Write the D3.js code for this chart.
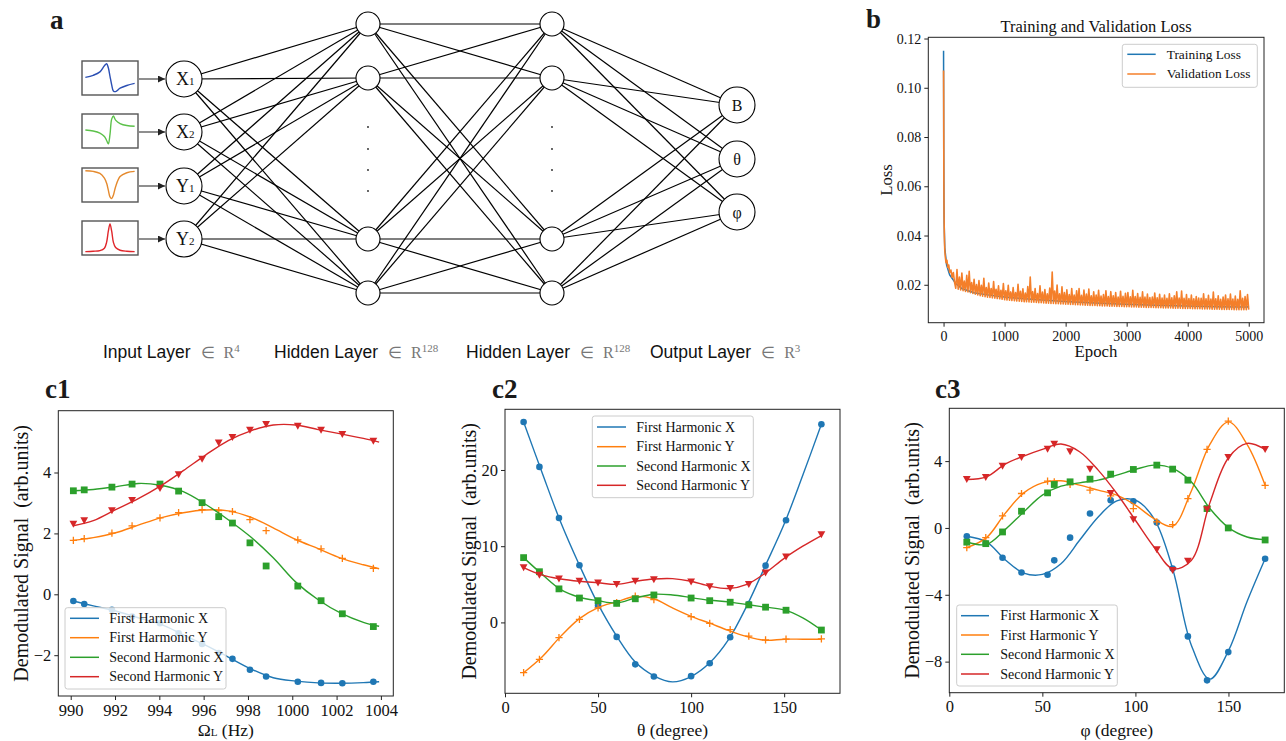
<!DOCTYPE html>
<html>
<head>
<meta charset="utf-8">
<title>network and demodulation results</title>
<script src="https://cdn.jsdelivr.net/npm/d3@7"></script>
<style>
  body { margin: 0; background: #fff; }
</style>
</head>
<body>
<svg id="fig" width="1286" height="741"></svg>
<script>
var SERIF = "'Liberation Serif', 'Times New Roman', serif";
var SANS = "'Liberation Sans', Arial, sans-serif";

// ---------- panel a : network ----------
var inputLabels = ["X", "X", "Y", "Y"];
var inputSubs = ["1", "2", "1", "2"];
var outputLabels = ["B", "θ", "φ"];
var layerNames = ["Input Layer", "Hidden Layer", "Hidden Layer", "Output Layer"];
var layerDims = ["4", "128", "128", "3"];
// small input traces (x and y as fraction of the box, y from top)
var traceX = [0.06, 0.2, 0.32, 0.4, 0.44, 0.47, 0.5, 0.53, 0.56, 0.6, 0.68, 0.8, 0.94];
var traceX1 = [0.48, 0.42, 0.32, 0.14, 0.08, 0.2, 0.45, 0.7, 0.88, 0.9, 0.8, 0.72, 0.66];
var traceX2 = [0.47, 0.5, 0.56, 0.66, 0.78, 0.88, 0.6, 0.15, 0.06, 0.18, 0.28, 0.34, 0.36];
var traceY1 = [0.08, 0.1, 0.16, 0.3, 0.45, 0.65, 0.85, 0.9, 0.8, 0.55, 0.25, 0.14, 0.1];
var traceY2 = [0.9, 0.89, 0.87, 0.8, 0.62, 0.3, 0.09, 0.3, 0.62, 0.78, 0.86, 0.89, 0.9];
var traceColors = ["#2b4fb3", "#5cc14a", "#e58a2e", "#e0262b"];

// ---------- panel b : loss ----------
var trainEpochs = [0, 3, 6, 10, 20, 50, 100, 200, 300, 500, 750, 1000, 1500, 2000, 2500, 3000, 3500, 4000, 4500, 4980, 5000];
var trainLoss = [0.115, 0.075, 0.055, 0.045, 0.035, 0.028, 0.024, 0.0205, 0.0185, 0.0168, 0.0158, 0.0150, 0.0140, 0.0132, 0.0126, 0.0121, 0.0117, 0.0114, 0.0111, 0.0110, 0.0114];
var valEarlyEpochs = [0, 2, 5, 8, 12, 16, 20, 30, 40, 55, 70, 85, 100, 120, 140, 160, 180];
var valEarlyLoss = [0.107, 0.095, 0.062, 0.048, 0.041, 0.037, 0.034, 0.031, 0.029, 0.030, 0.027, 0.028, 0.025, 0.026, 0.023, 0.025, 0.021];
var valLateLoss = [
  0.0186, 0.0262, 0.0182, 0.0231, 0.0179, 0.0248, 0.0176, 0.0215, 0.0173, 0.0238, 0.0171, 0.0255, 0.0168, 0.0209, 0.0165, 0.0222, 0.0162, 0.0201, 0.0159, 0.0217,
  0.0156, 0.0198, 0.0154, 0.0226, 0.0152, 0.0189, 0.0150, 0.0207, 0.0149, 0.0185, 0.0147, 0.0213, 0.0146, 0.0182, 0.0144, 0.0196, 0.0143, 0.0178, 0.0141, 0.0205,
  0.0139, 0.0176, 0.0138, 0.0198, 0.0137, 0.0171, 0.0136, 0.0189, 0.0135, 0.0168, 0.0134, 0.0202, 0.0133, 0.0174, 0.0132, 0.0184, 0.0131, 0.0166, 0.0131, 0.0193,
  0.0130, 0.0231, 0.0129, 0.0172, 0.0129, 0.0185, 0.0128, 0.0164, 0.0127, 0.0196, 0.0127, 0.0170, 0.0126, 0.0181, 0.0125, 0.0163, 0.0125, 0.0187, 0.0124, 0.0252,
  0.0124, 0.0175, 0.0123, 0.0199, 0.0123, 0.0163, 0.0122, 0.0192, 0.0122, 0.0168, 0.0121, 0.0180, 0.0121, 0.0160, 0.0120, 0.0185, 0.0120, 0.0158, 0.0119, 0.0176,
  0.0119, 0.0185, 0.0118, 0.0157, 0.0118, 0.0179, 0.0117, 0.0162, 0.0117, 0.0183, 0.0116, 0.0155, 0.0116, 0.0171, 0.0116, 0.0158, 0.0115, 0.0178, 0.0115, 0.0154,
  0.0114, 0.0160, 0.0114, 0.0176, 0.0114, 0.0152, 0.0113, 0.0172, 0.0113, 0.0155, 0.0113, 0.0168, 0.0112, 0.0150, 0.0112, 0.0174, 0.0112, 0.0153, 0.0111, 0.0165,
  0.0111, 0.0168, 0.0111, 0.0151, 0.0110, 0.0178, 0.0110, 0.0152, 0.0110, 0.0164, 0.0109, 0.0149, 0.0109, 0.0171, 0.0109, 0.0150, 0.0108, 0.0162, 0.0108, 0.0148,
  0.0108, 0.0150, 0.0108, 0.0166, 0.0107, 0.0147, 0.0107, 0.0161, 0.0107, 0.0146, 0.0106, 0.0158, 0.0106, 0.0145, 0.0106, 0.0163, 0.0106, 0.0147, 0.0105, 0.0155,
  0.0105, 0.0171, 0.0105, 0.0146, 0.0105, 0.0175, 0.0104, 0.0145, 0.0104, 0.0160, 0.0104, 0.0144, 0.0104, 0.0158, 0.0103, 0.0143, 0.0103, 0.0152, 0.0103, 0.0146,
  0.0103, 0.0145, 0.0102, 0.0163, 0.0102, 0.0143, 0.0102, 0.0157, 0.0102, 0.0142, 0.0101, 0.0170, 0.0101, 0.0143, 0.0101, 0.0155, 0.0101, 0.0141, 0.0100, 0.0150,
  0.0100, 0.0158, 0.0100, 0.0143, 0.0100, 0.0162, 0.0100, 0.0142, 0.0099, 0.0154, 0.0099, 0.0141, 0.0099, 0.0176, 0.0099, 0.0145, 0.0099, 0.0152, 0.0099, 0.0160,
  0.0099];
var valLateEpochs = d3.range(200, 5001, 20);

// ---------- panels c ----------
var seriesNames = ["First Harmonic X", "First Harmonic Y", "Second Harmonic X", "Second Harmonic Y"];
var seriesColors = ["#1f77b4", "#ff7f0e", "#2ca02c", "#d62728"];
var seriesMarkers = ["o", "+", "s", "v"];

// c1 : larmor frequency scan
var c1Freq = [990.12, 990.61, 991.86, 992.77, 994.03, 994.87, 995.93, 996.68, 997.30, 998.09, 998.82, 1000.25, 1001.30, 1002.26, 1003.66];
var c1FirstX = [-0.22, -0.32, -0.51, -0.73, -0.95, -1.28, -1.63, -1.93, -2.12, -2.48, -2.70, -2.87, -2.91, -2.92, -2.87];
var c1FirstY = [1.77, 1.83, 2.01, 2.25, 2.51, 2.68, 2.78, 2.75, 2.72, 2.45, 2.09, 1.79, 1.49, 1.18, 0.85];
var c1SecondX = [3.40, 3.43, 3.52, 3.62, 3.62, 3.39, 3.01, 2.55, 2.34, 1.69, 0.93, 0.27, -0.21, -0.64, -1.06];
var c1SecondY = [2.30, 2.42, 2.75, 3.08, 3.48, 3.93, 4.44, 4.97, 5.15, 5.39, 5.58, 5.52, 5.39, 5.25, 5.03];
var c1FitFreq = [990.12, 991.02, 992.03, 993.05, 994.06, 995.08, 996.1, 997.11, 998.13, 999.14, 1000.16, 1001.17, 1002.19, 1003.21, 1003.92];
var c1FitFirstX = [-0.22, -0.38, -0.55, -0.77, -0.98, -1.33, -1.68, -2.06, -2.45, -2.74, -2.85, -2.91, -2.92, -2.90, -2.87];
var c1FitFirstY = [1.77, 1.86, 2.02, 2.27, 2.51, 2.68, 2.77, 2.74, 2.53, 2.18, 1.80, 1.50, 1.19, 0.97, 0.84];
var c1FitSecondX = [3.40, 3.44, 3.53, 3.64, 3.58, 3.37, 2.95, 2.45, 1.88, 1.20, 0.40, -0.18, -0.62, -0.92, -1.05];
var c1FitSecondY = [2.25, 2.42, 2.78, 3.14, 3.56, 4.06, 4.58, 5.05, 5.37, 5.56, 5.56, 5.41, 5.27, 5.12, 5.00];

// c2 : theta scan
var c2Theta = [10, 18.5, 29, 40, 50, 60, 70, 80, 100, 110, 121, 131, 140, 151, 170];
var c2FirstX = [26.3, 20.4, 13.7, 7.5, 2.2, -1.9, -5.5, -7.1, -7.05, -5.35, -1.95, 2.4, 7.45, 13.4, 26.0];
var c2FirstY = [-6.6, -4.86, -2.0, 0.39, 1.9, 2.6, 3.45, 3.0, 0.77, -0.12, -0.95, -1.8, -2.3, -2.2, -2.15];
var c2SecondX = [8.5, 6.65, 4.4, 3.2, 2.85, 2.5, 3.1, 3.6, 3.2, 2.85, 2.65, 2.3, 2.0, 1.6, -1.0];
var c2SecondY = [7.2, 6.2, 5.7, 5.4, 5.2, 5.0, 5.4, 5.6, 5.3, 4.7, 4.45, 5.0, 6.5, 8.6, 11.5];
var c2FitTheta = [10, 20, 30, 40, 50, 60, 70, 80, 90, 100, 110, 120, 130, 140, 150, 160, 170];
var c2FitFirstX = [26.3, 19.6, 13.1, 7.5, 2.4, -1.8, -5.2, -7.0, -7.8, -7.1, -5.3, -2.3, 2.2, 7.5, 12.9, 19.3, 26.0];
var c2FitFirstY = [-6.6, -4.5, -1.8, 0.5, 1.95, 2.7, 3.4, 3.1, 1.9, 0.8, -0.1, -1.05, -1.85, -2.35, -2.2, -2.2, -2.2];
var c2FitSecondX = [8.5, 6.3, 4.3, 3.3, 2.85, 2.55, 3.2, 3.7, 3.6, 3.25, 2.9, 2.7, 2.35, 2.0, 1.65, 0.6, -1.0];
var c2FitSecondY = [7.2, 6.2, 5.7, 5.4, 5.2, 5.0, 5.4, 5.7, 5.75, 5.4, 4.75, 4.45, 5.0, 6.5, 8.4, 10.0, 11.4];

// c3 : phi scan
var c3Phi = [9.4, 19.6, 28.6, 38.8, 52.8, 56.4, 64.9, 75.6, 86.7, 98.9, 111.5, 120, 128.2, 138.5, 149.9, 169.7];
var c3FirstX = [-0.5, -0.94, -1.78, -2.67, -2.8, -1.94, -0.58, 0.86, 1.66, 1.6, 0.32, -2.43, -6.49, -9.12, -7.43, -1.84];
var c3FirstY = [-1.18, -0.58, 0.72, 2.06, 2.8, 2.76, 2.6, 2.26, 1.92, 1.16, 0.36, 0.2, 1.76, 4.7, 6.39, 2.55];
var c3SecondX = [-0.85, -0.94, -0.24, 1.0, 2.1, 2.6, 2.76, 2.92, 3.22, 3.5, 3.76, 3.52, 2.86, 1.16, 0.0, -0.72];
var c3SecondY = [2.9, 3.02, 3.7, 4.22, 4.72, 5.02, 4.56, 3.52, 2.06, 0.5, -1.3, -2.54, -1.98, 1.1, 4.22, 4.7];
var c3FitPhi = [9.4, 20, 30, 40, 50, 60, 70, 80, 90, 100, 110, 120, 130, 140, 150, 160, 169.7];
var c3FitFirstX = [-0.5, -0.84, -1.9, -2.7, -2.78, -2.14, -0.74, 0.66, 1.62, 1.66, 0.56, -2.44, -7.0, -9.05, -7.35, -4.4, -1.84];
var c3FitFirstY = [-1.18, -0.58, 0.87, 2.1, 2.7, 2.82, 2.56, 2.26, 1.96, 1.36, 0.56, 0.1, 2.2, 5.0, 6.35, 5.0, 2.55];
var c3FitSecondX = [-0.84, -0.98, -0.1, 0.96, 1.96, 2.5, 2.7, 2.86, 3.16, 3.5, 3.76, 3.56, 2.76, 1.16, 0.02, -0.54, -0.7];
var c3FitSecondY = [2.9, 3.06, 3.82, 4.3, 4.7, 5.02, 4.56, 3.46, 2.06, 0.46, -1.14, -2.44, -1.95, 1.5, 4.2, 5.06, 4.7];

var svg = d3.select("#fig");

function panelLabel(txt, x, y) {
  svg.append("text").attr("x", x).attr("y", y).text(txt)
    .attr("font-family", SERIF).attr("font-weight", "bold").attr("font-size", 27).attr("fill", "#1a1a1a");
}

// ================= panel a =================
panelLabel("a", 50, 29);

var layerX = [184, 368, 552, 737];
var inY = [79, 132, 186, 239];
var hidY = [24, 78, 239, 293];
var outY = [105, 159, 212];
var layers = [inY, hidY, hidY, outY];
var radii = [18, 12, 12, 18];

var net = svg.append("g");
for (var l = 0; l < 3; l++) {
  layers[l].forEach(function (y0) {
    layers[l + 1].forEach(function (y1) {
      net.append("line").attr("x1", layerX[l]).attr("y1", y0)
        .attr("x2", layerX[l + 1]).attr("y2", y1)
        .attr("stroke", "#000").attr("stroke-width", 1.2);
    });
  });
}
layers.forEach(function (ys, l) {
  net.selectAll(null).data(ys).enter().append("circle")
    .attr("cx", layerX[l]).attr("cy", function (d) { return d; })
    .attr("r", radii[l]).attr("fill", "#fff").attr("stroke", "#000").attr("stroke-width", 1.1);
});
// vertical dots in the hidden layers
[1, 2].forEach(function (l) {
  net.selectAll(null).data([127, 149, 170, 191]).enter().append("circle")
    .attr("cx", layerX[l]).attr("cy", function (d) { return d; }).attr("r", 0.9).attr("fill", "#222");
});
// input node text
inY.forEach(function (y, i) {
  var t = net.append("text").attr("x", layerX[0] - 8).attr("y", y + 6)
    .attr("font-family", SERIF).attr("font-size", 18).attr("fill", "#111");
  t.append("tspan").text(inputLabels[i]);
  t.append("tspan").attr("font-size", 11).text(inputSubs[i]);
});
outY.forEach(function (y, i) {
  net.append("text").attr("x", layerX[3]).attr("y", y + 5.5).attr("text-anchor", "middle")
    .attr("font-family", SERIF).attr("font-size", 16).attr("fill", "#111").text(outputLabels[i]);
});

// input traces with arrows
svg.append("defs").append("marker").attr("id", "arr").attr("viewBox", "0 0 10 10")
  .attr("refX", 10).attr("refY", 5).attr("markerWidth", 7).attr("markerHeight", 7)
  .attr("markerUnits", "userSpaceOnUse").attr("orient", "auto")
  .append("path").attr("d", "M0,0 L10,5 L0,10 Z").attr("fill", "#222");

var traces = [traceX1, traceX2, traceY1, traceY2];
var bx = d3.scaleLinear().domain([0, 1]).range([82, 138]);
traces.forEach(function (tr, i) {
  var top = inY[i] - 18;
  var by = d3.scaleLinear().domain([0, 1]).range([top, top + 34]);
  svg.append("rect").attr("x", 82).attr("y", top).attr("width", 56).attr("height", 34)
    .attr("fill", "#fff").attr("stroke", "#555").attr("stroke-width", 1.4);
  var line = d3.line().x(function (d, k) { return bx(traceX[k]); })
    .y(function (d) { return by(d); }).curve(d3.curveCatmullRom.alpha(0.5));
  svg.append("path").attr("d", line(tr)).attr("fill", "none")
    .attr("stroke", traceColors[i]).attr("stroke-width", 1.4);
  svg.append("line").attr("x1", 139).attr("y1", inY[i]).attr("x2", 165).attr("y2", inY[i])
    .attr("stroke", "#333").attr("stroke-width", 1.1).attr("marker-end", "url(#arr)");
});

// layer captions
var capX = [103, 274, 466, 650];
layerNames.forEach(function (name, i) {
  var t = svg.append("text").attr("x", capX[i]).attr("y", 358);
  t.append("tspan").attr("font-family", SANS).attr("font-size", 17.5).attr("fill", "#111").text(name);
  t.append("tspan").attr("dx", 10).attr("font-family", SERIF).attr("font-size", 16).attr("fill", "#777").text("∈");
  t.append("tspan").attr("dx", 9).attr("font-family", SERIF).attr("font-size", 16).attr("fill", "#777").text("R");
  t.append("tspan").attr("dy", -6).attr("font-family", SERIF).attr("font-size", 11).attr("fill", "#777").text(layerDims[i]);
});

// ================= axes helper =================
function makeAxes(o) {
  var g = svg.append("g");
  var x = d3.scaleLinear().domain(o.xDomain).range([o.left, o.right]);
  var y = d3.scaleLinear().domain(o.yDomain).range([o.bottom, o.top]);
  var xa = g.append("g").attr("transform", "translate(0," + o.bottom + ")")
    .call(d3.axisBottom(x).tickValues(o.xTicks).tickFormat(o.xFormat || d3.format("d"))
      .tickSize(4).tickSizeOuter(0).tickPadding(4));
  var ya = g.append("g").attr("transform", "translate(" + o.left + ",0)")
    .call(d3.axisLeft(y).tickValues(o.yTicks).tickFormat(o.yFormat || d3.format("d"))
      .tickSize(4).tickSizeOuter(0).tickPadding(3));
  [xa, ya].forEach(function (a) {
    a.attr("font-family", null).attr("font-size", null);
    a.select(".domain").remove();
    a.selectAll(".tick line").attr("stroke", "#222").attr("stroke-width", 1);
    a.selectAll(".tick text").attr("fill", "#111")
      .attr("font-family", SERIF).attr("font-size", o.tickFont);
  });
  var plot = g.append("g");
  g.append("rect").attr("x", o.left).attr("y", o.top)
    .attr("width", o.right - o.left).attr("height", o.bottom - o.top)
    .attr("fill", "none").attr("stroke", "#222").attr("stroke-width", 1);
  return { g: g, plot: plot, x: x, y: y };
}

function drawLegend(g, box, rows, names, colors, lineX, textX, fontSize) {
  g.append("rect").attr("x", box[0]).attr("y", box[1]).attr("width", box[2]).attr("height", box[3])
    .attr("rx", 2.5).attr("fill", "#fff").attr("fill-opacity", 0.8)
    .attr("stroke", "#ccc").attr("stroke-width", 1);
  names.forEach(function (n, i) {
    g.append("line").attr("x1", lineX[0]).attr("x2", lineX[1]).attr("y1", rows[i]).attr("y2", rows[i])
      .attr("stroke", colors[i]).attr("stroke-width", 1.5);
    g.append("text").attr("x", textX).attr("y", rows[i] + fontSize * 0.33)
      .attr("font-family", SERIF).attr("font-size", fontSize).attr("fill", "#111").text(n);
  });
}

// ================= panel b =================
panelLabel("b", 866, 28);
var b = makeAxes({
  left: 928.3, right: 1264, top: 37.3, bottom: 322.7,
  xDomain: [-250, 5250], yDomain: [0.0046, 0.1205],
  xTicks: [0, 1000, 2000, 3000, 4000, 5000], yTicks: [0.02, 0.04, 0.06, 0.08, 0.10, 0.12],
  yFormat: d3.format(".2f"), tickFont: 14
});
var lossLine = d3.line().x(function (d) { return b.x(d[0]); }).y(function (d) { return b.y(d[1]); });
var trainPts = d3.zip(trainEpochs, trainLoss);
var valPts = d3.zip(valEarlyEpochs.concat(valLateEpochs), valEarlyLoss.concat(valLateLoss));
b.plot.append("path").attr("d", lossLine(trainPts)).attr("fill", "none")
  .attr("stroke", "#1f77b4").attr("stroke-width", 1.5);
b.plot.append("path").attr("d", lossLine(valPts)).attr("fill", "none")
  .attr("stroke", "#f47f2a").attr("stroke-width", 1.6).attr("stroke-linejoin", "round");
svg.append("text").attr("x", 1096).attr("y", 32).attr("text-anchor", "middle")
  .attr("font-family", SERIF).attr("font-size", 16.5).attr("fill", "#111").text("Training and Validation Loss");
svg.append("text").attr("x", 1096).attr("y", 357).attr("text-anchor", "middle")
  .attr("font-family", SERIF).attr("font-size", 16.8).attr("fill", "#111").text("Epoch");
svg.append("text").attr("transform", "translate(892,180) rotate(-90)").attr("text-anchor", "middle")
  .attr("font-family", SERIF).attr("font-size", 16.8).attr("fill", "#111").text("Loss");
drawLegend(b.g, [1122.3, 44.3, 135, 43], [54.3, 74], ["Training Loss", "Validation Loss"],
  ["#1f77b4", "#f47f2a"], [1127.3, 1155.7], 1166.7, 13.4);

// ================= panels c =================
function drawMarker(g, type, color, cx, cy) {
  if (type === "o") {
    g.append("circle").attr("cx", cx).attr("cy", cy).attr("r", 3.3).attr("fill", color);
  } else if (type === "+") {
    g.append("path").attr("d", "M" + (cx - 3.6) + "," + cy + "H" + (cx + 3.6) + "M" + cx + "," + (cy - 3.6) + "V" + (cy + 3.6))
      .attr("stroke", color).attr("stroke-width", 1.3).attr("fill", "none");
  } else if (type === "s") {
    g.append("rect").attr("x", cx - 3.4).attr("y", cy - 3.4).attr("width", 6.8).attr("height", 6.8).attr("fill", color);
  } else {
    g.append("path").attr("d", "M" + (cx - 3.9) + "," + (cy - 3.4) + "L" + (cx + 3.9) + "," + (cy - 3.4) + "L" + cx + "," + (cy + 3.6) + "Z")
      .attr("fill", color);
  }
}

function scanPanel(o) {
  panelLabel(o.label, o.labelX, 398);
  var p = makeAxes(o);
  var fitLine = d3.line().x(function (d) { return p.x(d[0]); }).y(function (d) { return p.y(d[1]); })
    .curve(d3.curveCatmullRom.alpha(0.5));
  o.points.forEach(function (ys, i) {
    ys.forEach(function (v, k) { drawMarker(p.plot, seriesMarkers[i], seriesColors[i], p.x(o.xs[k]), p.y(v)); });
    p.plot.append("path").attr("d", fitLine(d3.zip(o.fitXs, o.fits[i]))).attr("fill", "none")
      .attr("stroke", seriesColors[i]).attr("stroke-width", 1.4);
  });
  var cx = (o.left + o.right) / 2;
  var xl = svg.append("text").attr("x", cx).attr("y", 736).attr("text-anchor", "middle")
    .attr("font-family", SERIF).attr("font-size", 17.5).attr("fill", "#111");
  o.xLabel(xl);
  svg.append("text").attr("transform", "translate(" + o.yLabelX + "," + ((o.top + o.bottom) / 2) + ") rotate(-90)")
    .attr("text-anchor", "middle").attr("font-family", SERIF).attr("font-size", 20)
    .attr("fill", "#111").text("Demodulated Signal\u00a0 (arb.units)");
  drawLegend(p.g, o.legendBox, o.legendRows, seriesNames, seriesColors, o.legendLine, o.legendText, 14);
}

scanPanel({
  label: "c1", labelX: 45,
  left: 58.3, right: 393.3, top: 410.7, bottom: 696,
  xDomain: [989.44, 1004.56], yDomain: [-3.34, 6.03],
  xTicks: d3.range(990, 1005, 2), yTicks: [-2, 0, 2, 4], tickFont: 16.5,
  xs: c1Freq, points: [c1FirstX, c1FirstY, c1SecondX, c1SecondY],
  fitXs: c1FitFreq, fits: [c1FitFirstX, c1FitFirstY, c1FitSecondX, c1FitSecondY],
  xLabel: function (t) {
    t.append("tspan").text("Ω");
    t.append("tspan").attr("font-size", 11).text("L");
    t.append("tspan").text(" (Hz)");
  },
  yLabelX: 28,
  legendBox: [65, 607.7, 161, 81.3], legendRows: [618.3, 637.7, 657.3, 676.7],
  legendLine: [70, 99], legendText: 109.3
});

scanPanel({
  label: "c2", labelX: 492,
  left: 505, right: 840, top: 409.3, bottom: 693.3,
  xDomain: [0, 180], yDomain: [-9.3, 27.96],
  xTicks: [0, 50, 100, 150], yTicks: [0, 10, 20], tickFont: 16.5,
  xs: c2Theta, points: [c2FirstX, c2FirstY, c2SecondX, c2SecondY],
  fitXs: c2FitTheta, fits: [c2FitFirstX, c2FitFirstY, c2FitSecondX, c2FitSecondY],
  xLabel: function (t) { t.text("θ (degree)"); },
  yLabelX: 476,
  legendBox: [592.3, 416, 161, 81.7], legendRows: [427, 446.7, 466, 485.3],
  legendLine: [597, 626], legendText: 636.3
});

scanPanel({
  label: "c3", labelX: 935,
  left: 949.3, right: 1284.3, top: 408.3, bottom: 692.7,
  xDomain: [0, 180], yDomain: [-9.86, 7.16],
  xTicks: [0, 50, 100, 150], yTicks: [-8, -4, 0, 4], tickFont: 16.5,
  xs: c3Phi, points: [c3FirstX, c3FirstY, c3SecondX, c3SecondY],
  fitXs: c3FitPhi, fits: [c3FitFirstX, c3FitFirstY, c3FitSecondX, c3FitSecondY],
  xLabel: function (t) { t.text("φ (degree)"); },
  yLabelX: 919,
  legendBox: [956.7, 605, 160.6, 81], legendRows: [615.7, 635, 654.3, 674],
  legendLine: [961, 989], legendText: 1000.3
});
</script>
</body>
</html>
